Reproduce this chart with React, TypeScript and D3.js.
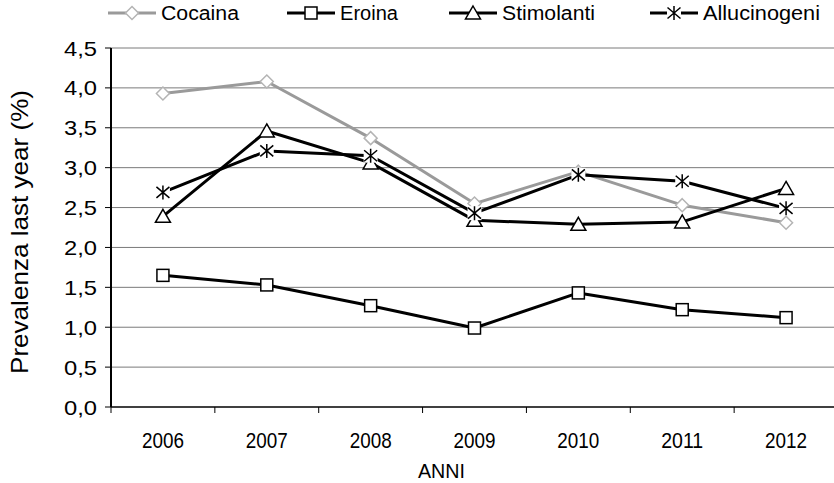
import React from "react";
import * as d3 from "d3";

const years = ["2006", "2007", "2008", "2009", "2010", "2011", "2012"];
const cocaina = [3.93, 4.08, 3.37, 2.55, 2.95, 2.53, 2.31];
const eroina = [1.65, 1.53, 1.27, 0.99, 1.43, 1.22, 1.12];
const stimolanti = [2.39, 3.46, 3.06, 2.34, 2.29, 2.32, 2.74];
const allucinogeni = [2.69, 3.21, 3.15, 2.43, 2.91, 2.83, 2.49];
const yTicks = [0, 0.5, 1, 1.5, 2, 2.5, 3, 3.5, 4, 4.5];

type Series = { name: string; values: number[]; color: string; marker: string };
const series: Series[] = [
  { name: "Cocaina", values: cocaina, color: "#9a9a9a", marker: "diamond" },
  { name: "Eroina", values: eroina, color: "#000", marker: "square" },
  { name: "Stimolanti", values: stimolanti, color: "#000", marker: "triangle" },
  { name: "Allucinogeni", values: allucinogeni, color: "#000", marker: "star" },
];
const legendX = [108, 287, 449, 650];
const legendTextLen = [78, 58, 93, 117];

const FONT = "'Liberation Sans', Arial, sans-serif";

function Marker({ type, x, y }: { type: string; x: number; y: number }) {
  if (type === "diamond") {
    const s = 6.5;
    return (
      <path
        d={`M${x},${y - s}L${x + s},${y}L${x},${y + s}L${x - s},${y}Z`}
        fill="#fff"
        stroke="#b4b4b4"
        strokeWidth={1.5}
      />
    );
  }
  if (type === "square") {
    const s = 6;
    return <rect x={x - s} y={y - s} width={2 * s} height={2 * s} fill="#fff" stroke="#000" strokeWidth={1.5} />;
  }
  if (type === "triangle") {
    return (
      <path
        d={`M${x},${y - 7}L${x + 7.5},${y + 6}L${x - 7.5},${y + 6}Z`}
        fill="#fff"
        stroke="#000"
        strokeWidth={1.5}
      />
    );
  }
  return (
    <g>
      <rect x={x - 7} y={y - 7} width={14} height={14} fill="#fff" />
      <path
        d={`M${x},${y - 7}L${x},${y + 7}M${x - 6.5},${y - 5.5}L${x + 6.5},${y + 5.5}M${x - 6.5},${y + 5.5}L${x + 6.5},${y - 5.5}`}
        stroke="#000"
        strokeWidth={1.5}
        fill="none"
      />
    </g>
  );
}

export default function App() {
  const W = 834;
  const H = 483;
  const left = 111;
  const right = 838;
  const top = 48;
  const bottom = 407;

  const x = d3.scaleBand<string>().domain(years).range([left, right]);
  const y = d3.scaleLinear().domain([0, 4.5]).range([bottom, top]);
  const cx = (yr: string) => (x(yr) as number) + x.bandwidth() / 2;
  const line = d3
    .line<number>()
    .x((_, i) => cx(years[i]))
    .y((v) => y(v));

  const fmt = (v: number) => v.toFixed(1).replace(".", ",");
  const boundaries = years.map((yr) => x(yr) as number).concat([right]);

  return (
    <svg width={W} height={H} style={{ position: "absolute", left: 0, top: 0, background: "#fff" }} fontFamily={FONT}>
      <rect width={W} height={H} fill="#fff" />
      {yTicks.slice(1).map((t) => (
        <line key={t} x1={left} x2={right} y1={y(t)} y2={y(t)} stroke="#7a7a7a" strokeWidth={1} />
      ))}
      {yTicks.map((t) => (
        <g key={"yt" + t}>
          <line x1={left - 6} x2={left} y1={y(t)} y2={y(t)} stroke="#000" strokeWidth={1} />
          <text
            x={97}
            y={y(t)}
            dy="0.36em"
            textAnchor="end"
            fontSize={21}
            textLength={33}
            lengthAdjust="spacingAndGlyphs"
            fill="#000"
          >
            {fmt(t)}
          </text>
        </g>
      ))}
      <line x1={left} x2={right} y1={bottom} y2={bottom} stroke="#000" strokeWidth={1.5} />
      {boundaries.map((b, i) => (
        <line key={"xt" + i} x1={b} x2={b} y1={bottom} y2={bottom + 6} stroke="#000" strokeWidth={1} />
      ))}
      {years.map((yr) => (
        <text
          key={yr}
          x={cx(yr) - 21}
          y={448}
          fontSize={22}
          textLength={42}
          lengthAdjust="spacingAndGlyphs"
          fill="#000"
        >
          {yr}
        </text>
      ))}
      <text x={418} y={478} fontSize={21} textLength={47} lengthAdjust="spacingAndGlyphs" fill="#000">
        ANNI
      </text>
      <line x1={left} x2={left} y1={top} y2={bottom} stroke="#000" strokeWidth={2} />
      <text
        transform={`translate(28,${232 + 142}) rotate(-90)`}
        fontSize={24}
        textLength={284}
        lengthAdjust="spacingAndGlyphs"
        fill="#000"
      >
        Prevalenza last year (%)
      </text>
      {series.map((s) => (
        <g key={s.name}>
          <path d={line(s.values) || ""} fill="none" stroke={s.color} strokeWidth={3} strokeLinejoin="round" />
          {s.values.map((v, i) => (
            <Marker key={i} type={s.marker} x={cx(years[i])} y={y(v)} />
          ))}
        </g>
      ))}
      {series.map((s, i) => {
        const lx = legendX[i];
        const ly = 13;
        return (
          <g key={"lg" + s.name}>
            <line x1={lx} x2={lx + 48} y1={ly} y2={ly} stroke={s.color} strokeWidth={3} />
            <Marker type={s.marker} x={lx + 24} y={ly} />
            <text
              x={lx + 53}
              y={ly}
              dy="0.36em"
              fontSize={20}
              textLength={legendTextLen[i]}
              lengthAdjust="spacingAndGlyphs"
              fill="#000"
            >
              {s.name}
            </text>
          </g>
        );
      })}
    </svg>
  );
}
